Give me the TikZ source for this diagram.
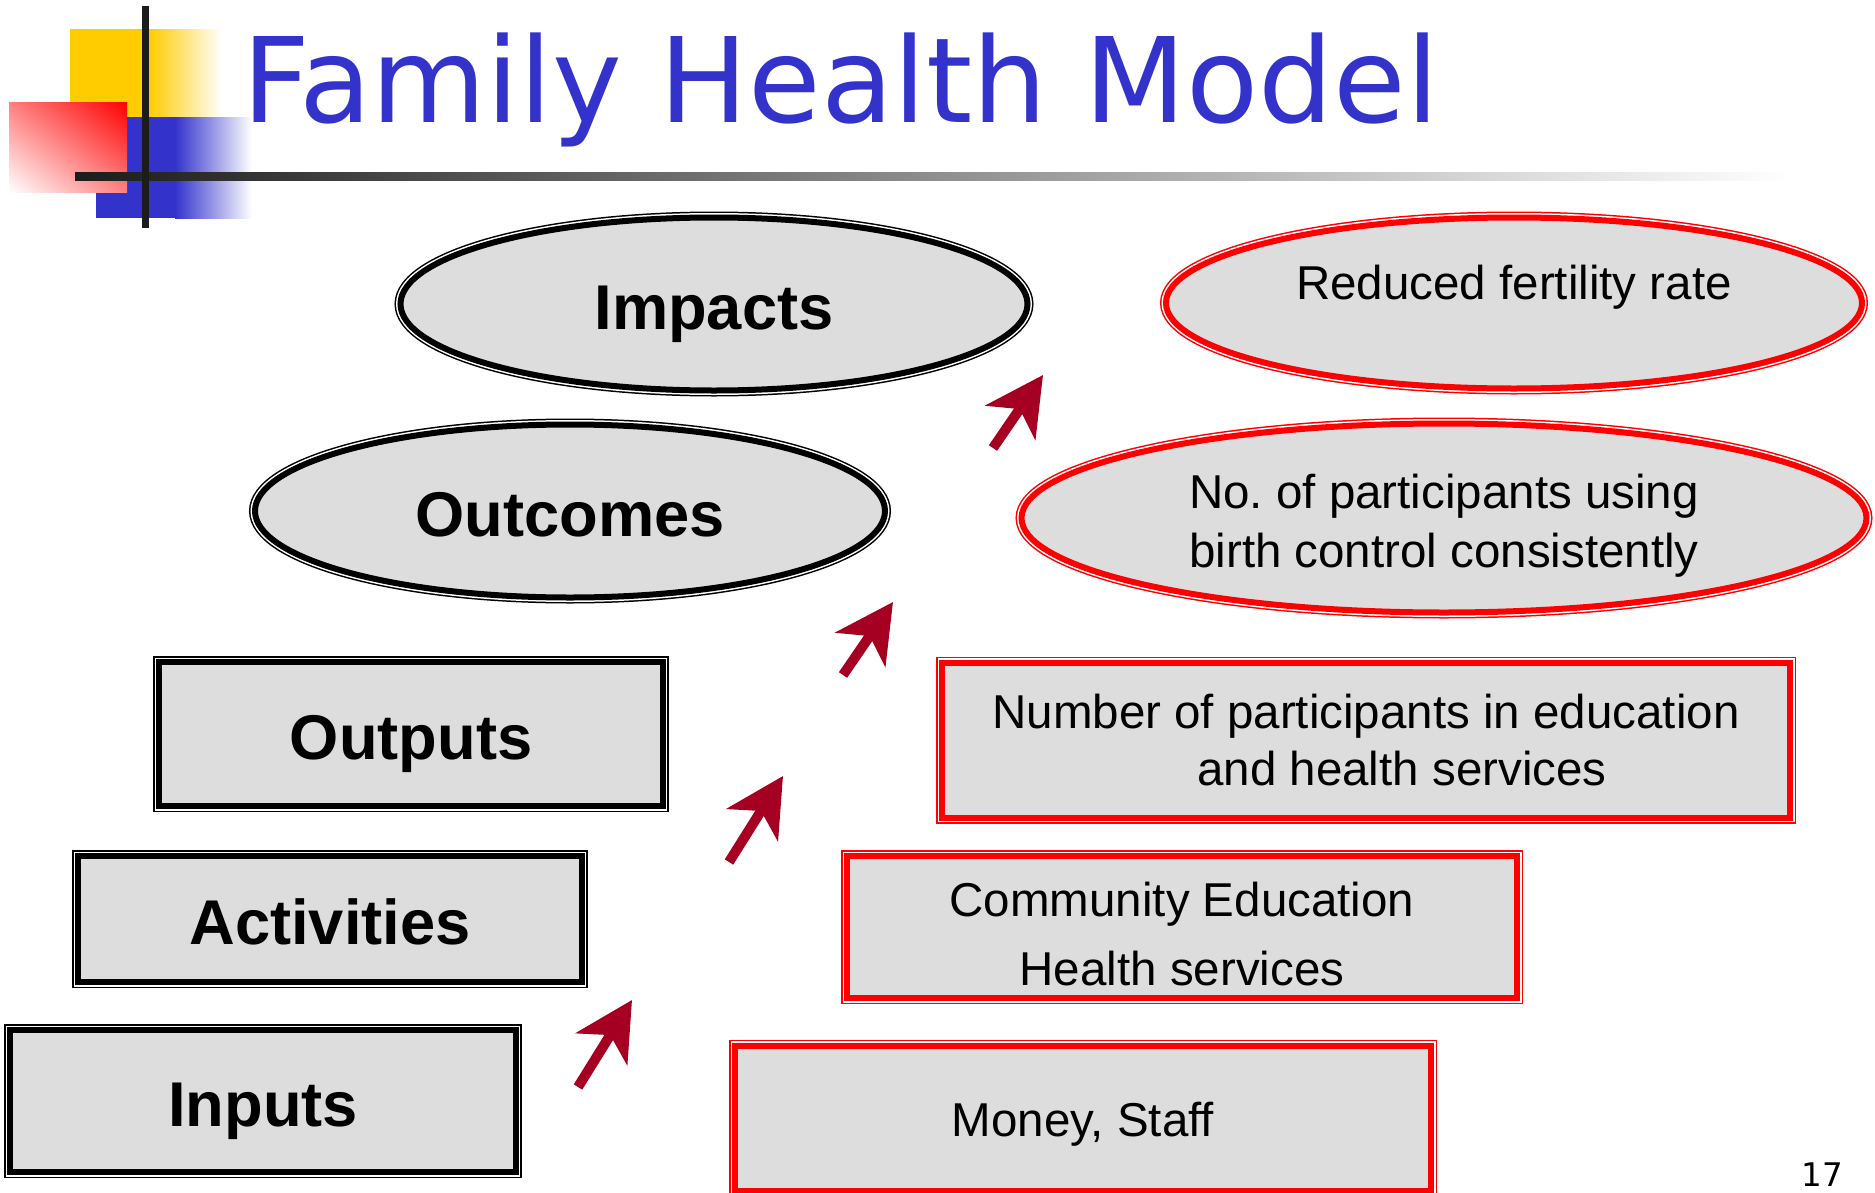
\documentclass[tikz,border=0pt]{standalone}
\usepackage{fontspec}
\setmainfont{Liberation Sans}
\newfontfamily\titlefont{DejaVu Sans}
\usepackage{xcolor}
\usetikzlibrary{arrows.meta,positioning,shapes.geometric,shadings}
\definecolor{titleblue}{HTML}{3333CC}
\definecolor{decoyellow}{HTML}{FFCC00}
\definecolor{arrowred}{HTML}{A50021}
\definecolor{boxgray}{HTML}{DDDDDD}
\definecolor{linegray}{HTML}{1C1C1C}
\tikzset{%
	dbl/.style       = {preaction={draw=#1, line width=4.8pt}, preaction={draw=white, line width=3.6pt}, draw=#1, line width=2.4pt, fill=boxgray, inner sep=0pt}, % double frame
	stage/.style     = {dbl=black, rectangle, text height=20.1pt, text depth=0pt, font=\bfseries\fontsize{25.3}{30}\selectfont},
	stageoval/.style = {dbl=black, ellipse, text height=20.1pt, text depth=0pt, font=\bfseries\fontsize{25.3}{30}\selectfont},
	result/.style    = {dbl=red, rectangle, align=center, font=\fontsize{19}{22.8}\selectfont},
	resultoval/.style= {dbl=red, ellipse, align=center, font=\fontsize{19}{23.6}\selectfont},
	waypoint/.style  = {coordinate},
	arrow/.style     = {draw=arrowred, line width=4pt, -{Stealth[length=23pt, width=24pt, inset=6.5pt]}},
}

\begin{document}
\begin{tikzpicture}[x=0.4pt,y=-0.4pt]
	\useasboundingbox (0,0) rectangle (1875,1193);

	% title decoration
	\fill[decoyellow] (70,29) rectangle (149,118);
	\shade[left color=decoyellow, right color=white] (149,29) rectangle (222,118);
	\fill[titleblue] (96,117) rectangle (175,218);
	\shade[left color=titleblue, right color=white] (175,117) rectangle (252,218);
	\shade[upper right=red, lower left=white, upper left=red!50!white, lower right=red!50!white] (9,102) rectangle (127,192);
	\shade[left color=linegray, right color=white] (75,172) rectangle (1790,180);
	\fill[linegray] (142,6) rectangle (149,228);

	\node [anchor=base west, inner sep=0pt, text=titleblue, font=\titlefont\fontsize{47.2}{50}\selectfont] (ttl) at (242,122) {Family Health Model};

	% stages
	\node [stageoval, minimum width=250.8pt, minimum height=69.2pt] (imp) at (714,304) {Impacts};
	\node [stageoval, minimum width=252pt, minimum height=69.2pt] (outc) at (570,511) {Outcomes};
	\node [stage, minimum width=201.2pt, minimum height=57.6pt] (outp) at (411,734) {Outputs};
	\node [stage, minimum width=201.2pt, minimum height=50.4pt] (act) at (330,919) {Activities};
	\node [stage, minimum width=202pt, minimum height=56.8pt] (inp) at (263,1101) {Inputs};

	% family health results
	\node [resultoval, minimum width=278.4pt, minimum height=68.4pt, text height=14pt, text depth=17pt] (rimp) at (1514,303) {Reduced fertility rate};
	\node [resultoval, minimum width=338pt, minimum height=75.6pt] (routc) at (1444,518) {\rule{0pt}{19.7pt}No.\ of participants using\\birth control consistently};
	\node [result, minimum width=339.2pt, minimum height=62pt] (routp) at (1366,740) {Number of participants in education\\\hspace*{28.8pt}and health services};
	\node [result, minimum width=268pt, minimum height=56.8pt, font=\fontsize{19}{27.6}\selectfont] (ract) at (1182,927) {\rule{0pt}{19.7pt}Community Education\\Health services};
	\node [result, minimum width=278.4pt, minimum height=58pt] (rinp) at (1083,1118) {\rule{0pt}{18.7pt}Money, Staff};

	% arrows
	\node [waypoint] (a1s) at (578,1087) {};
	\node [waypoint] (a1e) at (632,1000) {};
	\node [waypoint] (a2s) at (729,862) {};
	\node [waypoint] (a2e) at (783,776) {};
	\node [waypoint] (a3s) at (843,675) {};
	\node [waypoint] (a3e) at (893,602) {};
	\node [waypoint] (a4s) at (993,448) {};
	\node [waypoint] (a4e) at (1043,375) {};
	\draw[arrow] (a1s) -- (a1e);
	\draw[arrow] (a2s) -- (a2e);
	\draw[arrow] (a3s) -- (a3e);
	\draw[arrow] (a4s) -- (a4e);

	\node [anchor=base, inner sep=0pt, font=\titlefont\fontsize{13}{15}\selectfont] (pg) at (1822,1186) {17};
\end{tikzpicture}
\end{document}
